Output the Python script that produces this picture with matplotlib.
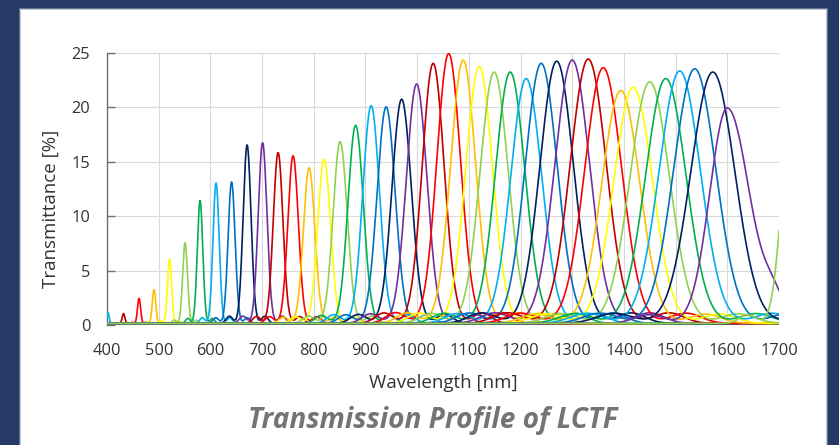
import numpy as np
import matplotlib
matplotlib.use("Agg")
import matplotlib.pyplot as plt
from matplotlib.patches import Rectangle

# ---------------- data ----------------
centers = [402, 432, 462, 491, 521, 551, 580, 611, 641, 671,
           701, 731, 760, 791, 820, 851, 881, 911, 940, 970,
           999, 1031, 1061, 1089, 1120, 1149, 1180, 1211, 1240, 1270,
           1300, 1331, 1360, 1394, 1418, 1450, 1481, 1508, 1537, 1572,
           1600, 1725]
heights = [1.0, 0.9, 2.3, 3.1, 5.9, 7.4, 11.3, 12.9, 13.0, 16.4,
           16.6, 15.7, 15.4, 14.3, 15.1, 16.7, 18.2, 20.0, 19.9, 20.6,
           22.0, 23.9, 24.8, 24.2, 23.6, 23.1, 23.1, 22.5, 23.9, 24.1,
           24.2, 24.3, 23.5, 21.4, 21.7, 22.2, 22.5, 23.2, 23.4, 23.1,
           19.8, 20.0]
fwhm_left = [5, 6, 7, 8, 9.5, 11, 12.5, 14, 16, 18,
             20, 22, 24, 26, 29, 32, 35, 38, 41, 44,
             47, 50, 54, 57, 61, 64, 67, 70, 73, 76,
             79, 82, 84, 86, 88, 90, 92, 94, 96, 100,
             80, 45]
fwhm_right = [5, 6, 7, 8, 9.5, 11, 12.5, 14, 16, 18,
              20, 22, 24, 26, 29, 32, 35, 38, 41, 44,
              47, 50, 54, 57, 61, 64, 67, 70, 73, 76,
              79, 82, 84, 86, 88, 90, 92, 94, 96, 100,
              100, 45]
# shoulder on the long-wavelength side of the 1600 nm curve
shoulder_series = [40]
shoulder_center = [1690]
shoulder_height = [2.0]
shoulder_fwhm = [47]

x_ticks = [400, 500, 600, 700, 800, 900, 1000, 1100, 1200, 1300, 1400, 1500, 1600, 1700]
y_ticks = [0, 5, 10, 15, 20, 25]

palette = ['#C00000', '#FF0000', '#FFC000', '#FFFF00', '#92D050',
           '#00B050', '#00B0F0', '#0070C0', '#002060', '#7030A0']
series_colors = ['#00B0F0'] + [palette[i % 10] for i in range(len(centers) - 2)] + ['#92D050']

# ---------------- figure ----------------
W, H = 839, 445
fig = plt.figure(figsize=(W / 100, H / 100), dpi=100)
navy = '#263A66'
fig.patch.set_facecolor(navy)

# white panel with soft edge
pl, pr, pt = 21, 826, 10
steps = [(2, 0.3), (1, 0.6), (0, 1.0)]
for grow, a in steps:
    fig.patches.append(Rectangle(((pl - grow) / W, -0.05), (pr - pl + 2 * grow) / W,
                                 1 - (pt - grow) / H + 0.05,
                                 transform=fig.transFigure, facecolor='white',
                                 edgecolor='none', alpha=a, zorder=-5))

ax = fig.add_axes([107 / W, 1 - 325 / H, (779 - 107) / W, (325 - 53) / H])
ax.set_zorder(1)
ax.set_facecolor('white')

wl = np.arange(400, 1700.25, 0.5)
side_ratio = 0.04
for i, (c, h, fl, fr, col) in enumerate(zip(centers, heights, fwhm_left, fwhm_right, series_colors)):
    d = wl - c
    f = np.where(d < 0, fl, fr)
    s = f / 2.3548
    y = h * np.exp(-d ** 2 / (2 * s ** 2))
    # small side lobes
    y += h * side_ratio * np.exp(-(np.abs(d) - 1.9 * f) ** 2 / (2 * (0.35 * f) ** 2))
    for k, sc, shh, sf in zip(shoulder_series, shoulder_center, shoulder_height, shoulder_fwhm):
        if k == i:
            ss = sf / 2.3548
            y += shh * np.exp(-(wl - sc) ** 2 / (2 * ss ** 2))
    y += 0.15
    ax.plot(wl, y, color=col, lw=1.2, zorder=3 + i * 0.01, clip_on=True)

ax.set_xlim(400, 1700)
ax.set_ylim(0, 25)
ax.set_xticks(x_ticks)
ax.set_yticks(y_ticks)
ax.grid(True, color='#D9D9D9', lw=0.8, zorder=0)
ax.set_axisbelow(True)
for sp in ['top', 'right', 'bottom']:
    ax.spines[sp].set_visible(False)
ax.spines['left'].set_color('#6F6F6F')
ax.spines['left'].set_linewidth(1.0)
ax.spines['left'].set_zorder(2.5)

font = 'Open Sans'
ax.tick_params(axis='y', direction='in', length=5.5, width=1.0, color='#6F6F6F',
               pad=12, labelsize=11.8, labelcolor='#333333')
ax.tick_params(axis='x', length=0, pad=13, labelsize=11.8, labelcolor='#333333')
for lab in ax.get_xticklabels() + ax.get_yticklabels():
    lab.set_fontfamily(font)

fig.text(443 / W, 1 - 388 / H, 'Wavelength [nm]', ha='center', va='baseline',
         fontsize=13.5, color='#333333', family=font)
fig.text(51 / W, 1 - 209 / H, 'Transmittance [%]', ha='center', va='center',
         rotation=90, fontsize=13.5, color='#333333', family=font)
fig.text(433 / W, 1 - 428 / H, 'Transmission Profile of LCTF', ha='center', va='baseline',
         fontsize=20.2, color='#727478', family=font, fontweight='bold', fontstyle='italic')

fig.savefig('out.png', dpi=100, facecolor=fig.get_facecolor())
